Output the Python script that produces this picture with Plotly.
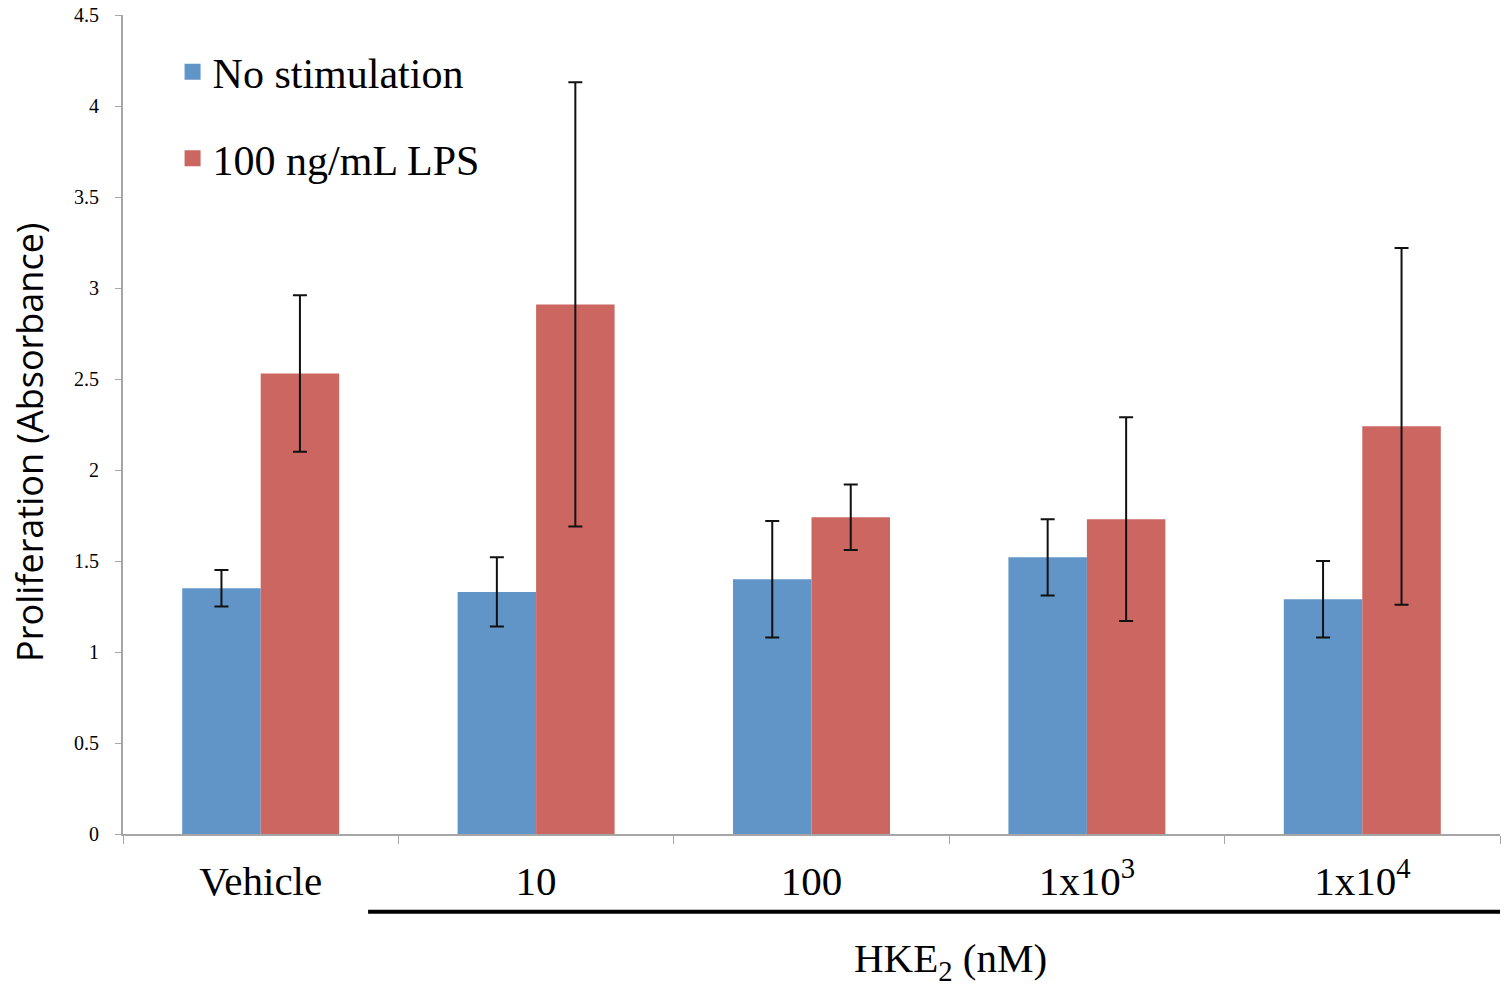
import plotly.graph_objects as go

categories = ["Vehicle", "10", "100", "1x10<sup>3</sup>", "1x10<sup>4</sup>"]
no_stim = [1.35, 1.33, 1.40, 1.52, 1.29]
no_stim_err = [0.10, 0.19, 0.32, 0.21, 0.21]
lps = [2.53, 2.91, 1.74, 1.73, 2.24]
lps_err = [0.43, 1.22, 0.18, 0.56, 0.98]
series_names = ["No stimulation", "100 ng/mL LPS"]
colors = ["#6195C8", "#CC6661"]
y_ticks = [0, 0.5, 1, 1.5, 2, 2.5, 3, 3.5, 4, 4.5]

SERIF = "Liberation Serif, Times New Roman, serif"

fig = go.Figure()
for name, vals, errs, col, grp in [
    (series_names[0], no_stim, no_stim_err, colors[0], "a"),
    (series_names[1], lps, lps_err, colors[1], "b"),
]:
    fig.add_trace(go.Bar(
        x=categories, y=vals, name=name, marker=dict(color=col, line=dict(width=0)),
        error_y=dict(type="data", array=errs, visible=True, color="#111111",
                     thickness=2, width=7),
        showlegend=False,
    ))
    fig.add_trace(go.Scatter(
        x=[None], y=[None], mode="markers", name=name, legendgroup=grp,
        marker=dict(symbol="square", size=20, color=col),
    ))

fig.update_layout(
    width=1511, height=986,
    margin=dict(l=123, r=11, t=15, b=152),
    plot_bgcolor="white", paper_bgcolor="white",
    barmode="group", bargap=0.43, bargroupgap=0,
    font=dict(family=SERIF, color="black"),
    legend=dict(
        x=0.036, y=0.972, xanchor="left", yanchor="top",
        font=dict(family=SERIF, size=42, color="black"),
        bgcolor="rgba(0,0,0,0)", tracegroupgap=29, itemsizing="trace",
    ),
    xaxis=dict(
        type="category", showline=True, linecolor="#A6A6A6", linewidth=2,
        ticks="outside", tickson="boundaries", ticklen=8, tickcolor="#A6A6A6",
        tickwidth=1, tickfont=dict(family=SERIF, size=41, color="black"),
        ticklabelstandoff=10, showgrid=False, zeroline=False, automargin=False,
    ),
    yaxis=dict(
        range=[0, 4.5], tickvals=y_ticks, ticktext=[f"{v:g}" for v in y_ticks],
        showline=True, linecolor="#A6A6A6", linewidth=2,
        ticks="outside", ticklen=6, tickcolor="#A6A6A6", tickwidth=1,
        tickfont=dict(family=SERIF, size=20, color="black"),
        ticklabelstandoff=12, showgrid=False, zeroline=False, automargin=False,
    ),
    annotations=[
        dict(text="Proliferation (Absorbance)", xref="paper", yref="paper",
             x=-0.068, y=0.478, xanchor="center", yanchor="middle",
             textangle=-90, showarrow=False,
             font=dict(family="Open Sans, sans-serif", size=36, color="black")),
        dict(text="HKE<sub>2</sub> (nM)", xref="paper", yref="paper",
             x=0.601, y=-0.155, xanchor="center", yanchor="middle",
             showarrow=False,
             font=dict(family=SERIF, size=41, color="black")),
    ],
    shapes=[
        dict(type="line", xref="paper", yref="paper", x0=0.178, x1=1.0,
             y0=-0.095, y1=-0.095, line=dict(color="black", width=4)),
    ],
)

fig.write_html("out.html")
